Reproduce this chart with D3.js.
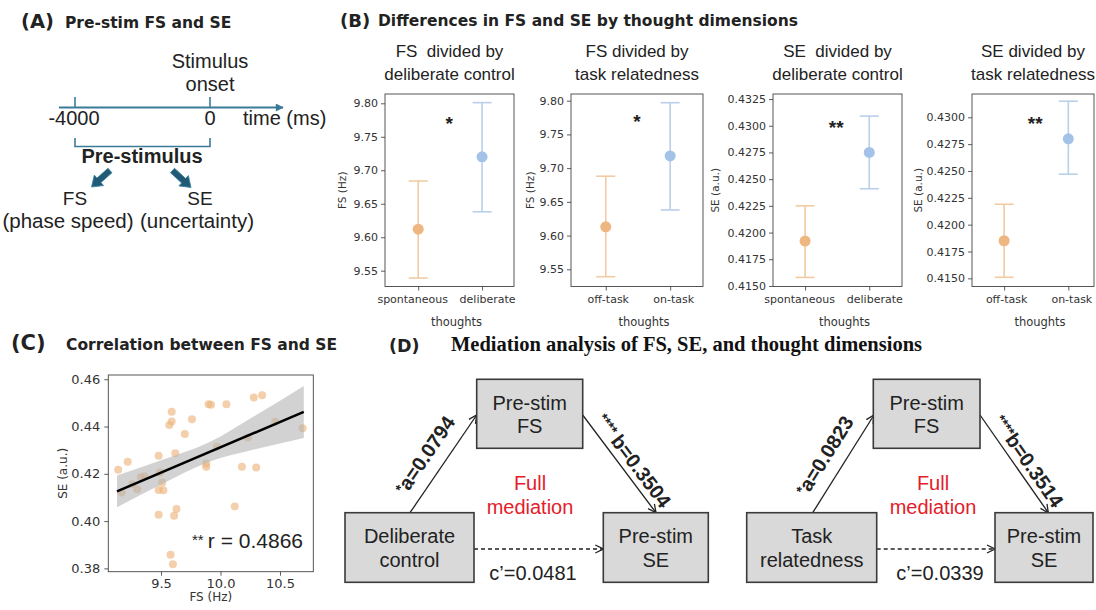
<!DOCTYPE html>
<html>
<head>
<meta charset="utf-8">
<script src="https://cdn.jsdelivr.net/npm/d3@7"></script>
<style>
body { margin: 0; background: #fff; }
text { font-family: "Liberation Sans", Arial, sans-serif; fill: #222; }
.mpl text, text.mpl { font-family: "DejaVu Sans", sans-serif; }
.hdr { font-family: "DejaVu Sans", sans-serif; font-weight: bold; }
</style>
</head>
<body>
<svg id="fig"></svg>
<script>
var W = 1096, H = 610;

// ---- panel B data (mean and 95% CI) ----
var delibCats = ["spontaneous", "deliberate"];
var taskCats = ["off-task", "on-task"];
var fsDelibMean = [9.612, 9.720], fsDelibLo = [9.539, 9.638], fsDelibHi = [9.684, 9.801];
var fsTaskMean = [9.613, 9.718], fsTaskLo = [9.539, 9.638], fsTaskHi = [9.688, 9.797];
var seDelibMean = [0.4192, 0.4275], seDelibLo = [0.4158, 0.4241], seDelibHi = [0.4225, 0.4309];
var seTaskMean = [0.4185, 0.4280], seTaskLo = [0.4151, 0.4247], seTaskHi = [0.4219, 0.4315];
var fsTicks = [9.55, 9.60, 9.65, 9.70, 9.75, 9.80];
var seTicksDelib = [0.4150, 0.4175, 0.4200, 0.4225, 0.4250, 0.4275, 0.4300, 0.4325];
var seTicksTask = [0.4150, 0.4175, 0.4200, 0.4225, 0.4250, 0.4275, 0.4300];
var sigMarks = ["*", "*", "**", "**"];
var sigLevel = [9.772, 9.772, 0.4300, 0.4296];

// ---- panel C data ----
var scatterFs = [9.14, 9.22, 9.17, 9.26, 9.30, 9.33, 9.36, 9.48, 9.49, 9.51, 9.48, 9.52, 9.59, 9.59, 9.57,
  9.62, 9.70, 9.76, 9.63, 9.48, 9.61, 9.58, 9.60, 9.90, 9.92, 9.88, 9.88, 9.97, 10.05, 10.12, 10.18,
  10.23, 10.28, 10.30, 10.35, 10.46, 10.69];
var scatterSe = [0.4217, 0.4251, 0.4121, 0.4156, 0.4135, 0.4185, 0.4190, 0.4276, 0.4206, 0.4163, 0.4132,
  0.4131, 0.4463, 0.4421, 0.4407, 0.4287, 0.4368, 0.4431, 0.4051, 0.4027, 0.4023, 0.3858, 0.3818, 0.4494,
  0.4492, 0.4244, 0.4230, 0.4314, 0.4494, 0.4062, 0.4230, 0.4354, 0.4523, 0.4227, 0.4532, 0.4420, 0.4393];
var fitFs = [9.13, 10.70], fitSe = [0.4126, 0.4462];
var bandFs = [9.13, 9.5, 9.9, 10.3, 10.7];
var bandLo = [0.4059, 0.4155, 0.4250, 0.4305, 0.4352];
var bandHi = [0.4193, 0.4257, 0.4332, 0.4449, 0.4572];
var cTicksX = [9.5, 10.0, 10.5];
var cTicksY = [0.38, 0.40, 0.42, 0.44, 0.46];
var corrR = "0.4866";

// ---- panel D data ----
var predictors = [["Deliberate", "control"], ["Task", "relatedness"]];
var pathA = ["0.0794", "0.0823"], pathB = ["0.3504", "0.3514"], pathC = ["0.0481", "0.0339"];
var sigA = ["*", "*"], sigB = ["**** ", "****"];

var svg = d3.select("#fig").attr("width", W).attr("height", H);
svg.append("rect").attr("width", W).attr("height", H).attr("fill", "#fff");
var defs = svg.append("defs");
defs.append("marker").attr("id", "tri").attr("viewBox", "0 0 10 10").attr("refX", 9).attr("refY", 5)
  .attr("markerWidth", 10).attr("markerHeight", 8).attr("markerUnits", "userSpaceOnUse").attr("orient", "auto")
  .append("path").attr("d", "M0,0 L10,5 L0,10 Z").attr("fill", "#3b7b98");
defs.append("marker").attr("id", "chev").attr("viewBox", "0 0 10 10").attr("refX", 9).attr("refY", 5)
  .attr("markerWidth", 10).attr("markerHeight", 10).attr("markerUnits", "userSpaceOnUse").attr("orient", "auto")
  .append("path").attr("d", "M1,1 L9,5 L1,9").attr("fill", "none").attr("stroke", "#222").attr("stroke-width", 1.3);

function styleAxis(g, fs) {
  g.select(".domain").remove();
  g.selectAll(".tick line").attr("stroke", "#333").attr("stroke-width", 0.8);
  g.selectAll(".tick text").attr("class", "mpl").style("font-size", fs + "px").style("fill", "#333");
}

// ================= (A) =================
svg.append("text").attr("class", "hdr").attr("x", 21).attr("y", 28).style("font-size", "19.5px").text("(A)");
svg.append("text").attr("class", "hdr").attr("x", 65).attr("y", 28).style("font-size", "15.5px").text("Pre-stim FS and SE");

var gA = svg.append("g");
var tealLine = "#3b7b98";
gA.append("text").attr("x", 210).attr("y", 68).attr("text-anchor", "middle").style("font-size", "20px").text("Stimulus");
gA.append("text").attr("x", 210).attr("y", 91).attr("text-anchor", "middle").style("font-size", "20px").text("onset");
gA.append("line").attr("x1", 59).attr("x2", 283).attr("y1", 107.5).attr("y2", 107.5)
  .attr("stroke", tealLine).attr("stroke-width", 2).attr("marker-end", "url(#tri)");
[75, 210].forEach(function (tx) {
  gA.append("line").attr("x1", tx).attr("x2", tx).attr("y1", 97).attr("y2", 107.5).attr("stroke", tealLine).attr("stroke-width", 1.6);
});
gA.append("text").attr("x", 74).attr("y", 125).attr("text-anchor", "middle").style("font-size", "20px").text("-4000");
gA.append("text").attr("x", 210).attr("y", 125).attr("text-anchor", "middle").style("font-size", "20px").text("0");
gA.append("text").attr("x", 243).attr("y", 125).style("font-size", "20px").text("time (ms)");
gA.append("path").attr("d", "M75,138 V146.5 H210 V138").attr("fill", "none").attr("stroke", tealLine).attr("stroke-width", 1.6);
gA.append("text").attr("x", 142).attr("y", 163).attr("text-anchor", "middle").style("font-size", "20px").style("font-weight", "bold").text("Pre-stimulus");

function blockArrow(g, x1, y1, x2, y2) {
  var dx = x2 - x1, dy = y2 - y1, L = Math.hypot(dx, dy), ang = Math.atan2(dy, dx) * 180 / Math.PI;
  var sw = 3, hw = 7, hl = 10;
  var pts = [[0, -sw], [L - hl, -sw], [L - hl, -hw], [L, 0], [L - hl, hw], [L - hl, sw], [0, sw]];
  g.append("polygon").attr("points", pts.map(function (p) { return p.join(","); }).join(" "))
    .attr("transform", "translate(" + x1 + "," + y1 + ") rotate(" + ang + ")")
    .attr("fill", "#215a74").attr("stroke", "#3a86a6").attr("stroke-width", 0.8);
}
blockArrow(gA, 110, 170.5, 91.5, 187);
blockArrow(gA, 172.5, 170.5, 191, 187.5);
gA.append("text").attr("x", 75).attr("y", 205).attr("text-anchor", "middle").style("font-size", "19px").text("FS");
gA.append("text").attr("x", 200).attr("y", 205).attr("text-anchor", "middle").style("font-size", "19px").text("SE");
gA.append("text").attr("x", 68).attr("y", 228).attr("text-anchor", "middle").style("font-size", "20.5px").text("(phase speed)");
gA.append("text").attr("x", 197).attr("y", 228).attr("text-anchor", "middle").style("font-size", "20.5px").text("(uncertainty)");

// ================= (B) =================
svg.append("text").attr("class", "hdr").attr("x", 340).attr("y", 27).style("font-size", "18px").text("(B)");
svg.append("text").attr("class", "hdr").attr("x", 378).attr("y", 26).style("font-size", "15.5px").text("Differences in FS and SE by thought dimensions");

var bPanels = [
  { title: ["FS  divided by", "deliberate control"], cats: delibCats, mean: fsDelibMean, lo: fsDelibLo, hi: fsDelibHi,
    ticks: fsTicks, fmt: ".2f", ylab: "FS (Hz)", box: [385, 514], xlim: [-0.52, 1.5], ylim: [9.5264, 9.8139], ylabX: 342,
    catShift: [-6, 5] },
  { title: ["FS divided by", "task relatedness"], cats: taskCats, mean: fsTaskMean, lo: fsTaskLo, hi: fsTaskHi,
    ticks: fsTicks, fmt: ".2f", ylab: "FS (Hz)", box: [571, 703], xlim: [-0.54, 1.51], ylim: [9.5245, 9.8099], ylabX: 530,
    catShift: [2, 3] },
  { title: ["SE  divided by", "deliberate control"], cats: delibCats, mean: seDelibMean, lo: seDelibLo, hi: seDelibHi,
    ticks: seTicksDelib, fmt: ".4f", ylab: "SE (a.u.)", box: [773, 902], xlim: [-0.5, 1.51], ylim: [0.41495, 0.43297], ylabX: 715,
    catShift: [-6, 5] },
  { title: ["SE divided by", "task relatedness"], cats: taskCats, mean: seTaskMean, lo: seTaskLo, hi: seTaskHi,
    ticks: seTicksTask, fmt: ".4f", ylab: "SE (a.u.)", box: [972, 1094], xlim: [-0.5, 1.4], ylim: [0.41424, 0.43217], ylabX: 918,
    catShift: [2, 3] }
];
var barCol = ["#f1cba3", "#b9cfea"], dotCol = ["#eeb680", "#a4c2e8"];
var bTop = 94, bBot = 286.5;

bPanels.forEach(function (p, i) {
  var g = svg.append("g");
  var x = d3.scaleLinear().domain(p.xlim).range(p.box);
  var y = d3.scaleLinear().domain(p.ylim).range([bBot, bTop]);
  var mid = (p.box[0] + p.box[1]) / 2;
  p.title.forEach(function (t, k) {
    g.append("text").attr("x", mid).attr("y", 57 + k * 23.3).attr("text-anchor", "middle")
      .style("font-size", "17px").style("white-space", "pre").text(t);
  });
  var ya = g.append("g").attr("transform", "translate(" + p.box[0] + ",0)")
    .call(d3.axisLeft(y).tickValues(p.ticks).tickFormat(d3.format(p.fmt)).tickSize(4).tickPadding(3));
  styleAxis(ya, 11);
  var xa = g.append("g").attr("transform", "translate(0," + bBot + ")")
    .call(d3.axisBottom(x).tickValues([0, 1]).tickFormat(function (d) { return p.cats[d]; }).tickSize(4).tickPadding(5));
  styleAxis(xa, 11);
  xa.selectAll(".tick text").attr("dx", function (d) { return p.catShift[d]; });
  g.append("rect").attr("x", p.box[0]).attr("y", bTop).attr("width", p.box[1] - p.box[0]).attr("height", bBot - bTop)
    .attr("fill", "none").attr("stroke", "#444").attr("stroke-width", 0.9);
  g.append("text").attr("class", "mpl").attr("x", mid + 7).attr("y", 326).attr("text-anchor", "middle")
    .style("font-size", "11.5px").style("fill", "#333").text("thoughts");
  g.append("text").attr("class", "mpl").attr("transform", "translate(" + (p.ylabX + 4) + "," + ((bTop + bBot) / 2) + ") rotate(-90)")
    .attr("text-anchor", "middle").style("font-size", "10.5px").style("fill", "#333").text(p.ylab);

  p.mean.forEach(function (m, j) {
    var cxp = x(j);
    g.append("line").attr("x1", cxp).attr("x2", cxp).attr("y1", y(p.lo[j])).attr("y2", y(p.hi[j]))
      .attr("stroke", barCol[j]).attr("stroke-width", 1.6);
    [p.lo[j], p.hi[j]].forEach(function (v) {
      g.append("line").attr("x1", cxp - 9.5).attr("x2", cxp + 9.5).attr("y1", y(v)).attr("y2", y(v))
        .attr("stroke", barCol[j]).attr("stroke-width", 1.6);
    });
    g.append("circle").attr("cx", cxp).attr("cy", y(m)).attr("r", 5.5).attr("fill", dotCol[j]);
  });
  g.append("text").attr("x", x(0.5) - 1).attr("y", y(sigLevel[i]) + 8).attr("text-anchor", "middle")
    .style("font-size", "19px").style("font-weight", "bold").text(sigMarks[i]);
});

// ================= (C) =================
svg.append("text").attr("class", "hdr").attr("x", 11).attr("y", 350).style("font-size", "21px").text("(C)");
svg.append("text").attr("class", "hdr").attr("x", 66).attr("y", 350).style("font-size", "15.5px").text("Correlation between FS and SE");

var gC = svg.append("g");
var cL = 108.3, cR = 313.3, cT = 375, cB = 571.7;
var cx = d3.scaleLinear().domain([9.057, 10.78]).range([cL, cR]);
var cy = d3.scaleLinear().domain([0.3786, 0.4618]).range([cB, cT]);
gC.selectAll("circle.pt").data(scatterFs).enter().append("circle").attr("class", "pt")
  .attr("cx", function (d) { return cx(d); })
  .attr("cy", function (d, i) { return cy(scatterSe[i]); })
  .attr("r", 4).attr("fill", "#ecb57e").attr("fill-opacity", 0.65);
var band = d3.area().curve(d3.curveMonotoneX)
  .x(function (d) { return cx(bandFs[d]); })
  .y0(function (d) { return cy(bandLo[d]); })
  .y1(function (d) { return cy(bandHi[d]); });
gC.append("path").attr("d", band(d3.range(bandFs.length))).attr("fill", "#b4b4b4").attr("fill-opacity", 0.6);
gC.append("line").attr("x1", cx(fitFs[0])).attr("x2", cx(fitFs[1])).attr("y1", cy(fitSe[0])).attr("y2", cy(fitSe[1]))
  .attr("stroke", "#000").attr("stroke-width", 2.5);
var cxa = gC.append("g").attr("transform", "translate(0," + cB + ")")
  .call(d3.axisBottom(cx).tickValues(cTicksX).tickFormat(d3.format(".1f")).tickSize(4).tickPadding(3));
styleAxis(cxa, 13);
var cya = gC.append("g").attr("transform", "translate(" + cL + ",0)")
  .call(d3.axisLeft(cy).tickValues(cTicksY).tickFormat(d3.format(".2f")).tickSize(4).tickPadding(4));
styleAxis(cya, 13);
gC.append("rect").attr("x", cL).attr("y", cT).attr("width", cR - cL).attr("height", cB - cT)
  .attr("fill", "none").attr("stroke", "#444").attr("stroke-width", 0.9);
gC.append("text").attr("class", "mpl").attr("x", (cL + cR) / 2).attr("y", 601).attr("text-anchor", "middle")
  .style("font-size", "12px").style("fill", "#333").text("FS (Hz)");
gC.append("text").attr("class", "mpl").attr("transform", "translate(67," + ((cT + cB) / 2) + ") rotate(-90)")
  .attr("text-anchor", "middle").style("font-size", "12px").style("fill", "#333").text("SE (a.u.)");
var rt = gC.append("text").attr("x", 303).attr("y", 548).attr("text-anchor", "end").style("font-size", "21px");
rt.append("tspan").style("font-size", "15px").attr("dy", -3).text("** ");
rt.append("tspan").attr("dy", 3).text("r = " + corrR);

// ================= (D) =================
svg.append("text").attr("class", "hdr").attr("x", 389).attr("y", 352).style("font-size", "17.5px").text("(D)");
svg.append("text").attr("x", 451).attr("y", 351).style("font-family", "'Liberation Serif', 'Times New Roman', serif")
  .style("font-weight", "bold").style("font-size", "20.5px").style("fill", "#111").text("Mediation analysis of FS, SE, and thought dimensions");

var dLayout = [
  { top: [476.7, 582.7], left: [345, 474], right: [603.3, 708.3], a: [410, 512.7, 476.7, 415], b: [582.7, 415, 656, 512.7],
    c: [474, 549, 603.3, 549], fullX: 530, cX: 533 },
  { top: [873.3, 980], left: [746.7, 876.7], right: [995, 1093], a: [812.7, 512.7, 874, 415], b: [980, 415, 1048.3, 512.7],
    c: [876.7, 549, 995, 549], fullX: 933, cX: 940 }
];
var rowTop = [379.3, 448.3], rowBot = [512.7, 582.3];

function nodeBox(g, xs, ys, lines) {
  g.append("rect").attr("x", xs[0]).attr("y", ys[0]).attr("width", xs[1] - xs[0]).attr("height", ys[1] - ys[0])
    .attr("fill", "#d9d9d9").attr("stroke", "#3a3a3a").attr("stroke-width", 1.6);
  lines.forEach(function (t, k) {
    g.append("text").attr("x", (xs[0] + xs[1]) / 2).attr("y", ys[0] + 30.7 + k * 23.4).attr("text-anchor", "middle")
      .style("font-size", "20px").text(t);
  });
}
function pathLabel(g, seg, sig, txt, off, along) {
  var dx = seg[2] - seg[0], dy = seg[3] - seg[1], L = Math.hypot(dx, dy);
  var ux = dx / L, uy = dy / L, th = Math.atan2(dy, dx);
  var upx = Math.sin(th), upy = -Math.cos(th);
  var px = (seg[0] + seg[2]) / 2 + upx * off + ux * along, py = (seg[1] + seg[3]) / 2 + upy * off + uy * along;
  var t = g.append("text").attr("transform", "translate(" + px + "," + py + ") rotate(" + (th * 180 / Math.PI) + ")")
    .attr("text-anchor", "middle").style("font-size", "20px").style("font-weight", "bold").style("white-space", "pre");
  t.append("tspan").style("font-size", "14px").attr("dy", -4).text(sig);
  t.append("tspan").attr("dy", 4).text(txt);
}

dLayout.forEach(function (d, i) {
  var g = svg.append("g");
  g.append("line").attr("x1", d.a[0]).attr("y1", d.a[1]).attr("x2", d.a[2]).attr("y2", d.a[3])
    .attr("stroke", "#222").attr("stroke-width", 1.3).attr("marker-end", "url(#chev)");
  g.append("line").attr("x1", d.b[0]).attr("y1", d.b[1]).attr("x2", d.b[2]).attr("y2", d.b[3])
    .attr("stroke", "#222").attr("stroke-width", 1.3).attr("marker-end", "url(#chev)");
  g.append("line").attr("x1", d.c[0]).attr("y1", d.c[1]).attr("x2", d.c[2]).attr("y2", d.c[3])
    .attr("stroke", "#222").attr("stroke-width", 1.3).attr("stroke-dasharray", "4,3").attr("marker-end", "url(#chev)");
  nodeBox(g, d.top, rowTop, ["Pre-stim", "FS"]);
  nodeBox(g, d.left, rowBot, predictors[i]);
  nodeBox(g, d.right, rowBot, ["Pre-stim", "SE"]);
  pathLabel(g, d.a, sigA[i], "a=" + pathA[i], 13, -3);
  pathLabel(g, d.b, sigB[i], "b=" + pathB[i], 6, 6);
  g.append("text").attr("x", d.fullX).attr("y", 490).attr("text-anchor", "middle").style("font-size", "20px")
    .style("fill", "#e3202a").text("Full");
  g.append("text").attr("x", d.fullX).attr("y", 514).attr("text-anchor", "middle").style("font-size", "20px")
    .style("fill", "#e3202a").text("mediation");
  g.append("text").attr("x", d.cX).attr("y", 580).attr("text-anchor", "middle").style("font-size", "20px")
    .text("c\u2019=" + pathC[i]);
});
</script>
</body>
</html>
